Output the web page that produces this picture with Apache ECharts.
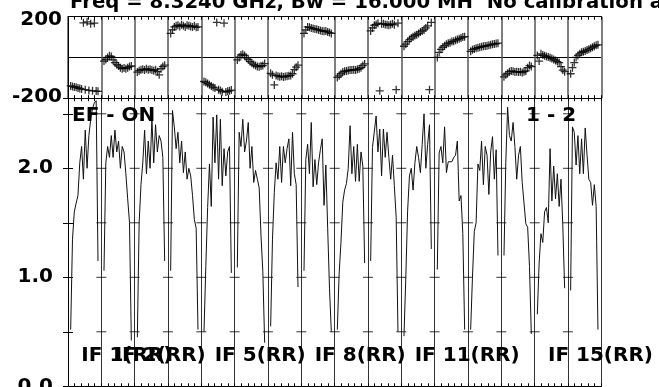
<!DOCTYPE html>
<html><head><meta charset="utf-8">
<script src="https://cdn.jsdelivr.net/npm/echarts@6/dist/echarts.min.js"></script>
<style>html,body{margin:0;padding:0;background:#fff;overflow:hidden}#c{width:659px;height:387px}</style>
</head><body><div id="c"></div>
<script>
// Amplitude per IF (16 channels each)
const amp01 = [0.52, 1.35, 1.6, 1.68, 1.75, 2.05, 2.2, 1.9, 2.35, 2.0, 2.3, 2.45, 2.55, 2.6, 2.62, 1.15];
const amp02 = [1.06, 2.05, 2.2, 2.1, 2.3, 2.1, 2.35, 2.15, 2.25, 2.0, 2.2, 2.15, 1.95, 1.72, 1.5, 0.42];
const amp03 = [0.45, 1.5, 1.85, 2.05, 2.35, 1.95, 2.25, 2.0, 2.45, 2.05, 2.4, 2.15, 2.3, 2.25, 2.1, 1.15];
const amp04 = [1.06, 2.53, 2.38, 2.18, 2.33, 2.05, 2.25, 1.96, 2.15, 1.9, 2.0, 1.93, 1.75, 1.53, 1.45, 0.52];
const amp05 = [0.5, 1.1, 1.64, 2.04, 1.65, 2.47, 2.05, 2.49, 1.9, 2.45, 1.84, 2.18, 1.93, 2.15, 2.2, 1.04];
const amp06 = [1.09, 2.33, 2.2, 2.45, 2.15, 2.25, 2.42, 2.0, 2.2, 1.87, 1.98, 1.9, 1.82, 1.38, 1.05, 0.4];
const amp07 = [0.55, 1.35, 1.78, 2.05, 1.9, 2.2, 1.87, 2.2, 2.05, 2.18, 2.27, 1.84, 2.33, 1.95, 1.85, 0.91];
const amp08 = [1.06, 2.08, 2.22, 1.95, 2.42, 1.83, 2.08, 1.85, 2.05, 2.17, 2.27, 1.66, 2.03, 1.45, 0.9, 0.5];
const amp09 = [0.52, 1.03, 1.32, 1.69, 1.8, 1.86, 2.0, 2.39, 1.95, 2.2, 1.88, 2.22, 1.88, 2.15, 2.02, 1.13];
const amp10 = [1.15, 2.19, 2.2, 2.48, 2.15, 2.36, 1.93, 2.36, 2.1, 2.33, 2.1, 1.9, 2.12, 1.84, 1.55, 0.5];
const amp11 = [0.46, 1.0, 1.61, 1.93, 2.0, 1.8, 2.05, 2.2, 2.1, 1.96, 2.22, 2.5, 2.0, 2.22, 2.4, 1.26];
const amp12 = [1.07, 2.14, 2.2, 2.05, 2.38, 1.96, 2.06, 2.05, 2.06, 2.1, 2.12, 2.25, 1.7, 1.75, 1.4, 0.52];
const amp13 = [0.52, 1.0, 1.42, 1.5, 2.04, 1.98, 2.25, 1.85, 2.2, 2.12, 1.76, 2.15, 2.29, 1.9, 2.17, 1.2];
const amp14 = [1.2, 2.05, 2.56, 2.3, 2.25, 2.42, 2.2, 1.9, 2.12, 2.2, 1.87, 1.88, 1.49, 1.46, 1.1, 0.48];
const amp15 = [0.66, 1.13, 1.4, 1.32, 1.6, 1.64, 1.5, 2.18, 1.7, 2.02, 1.72, 1.95, 1.65, 1.9, 1.47, 0.9];
const amp16 = [0.88, 2.38, 2.33, 2.03, 2.3, 1.95, 2.27, 1.95, 2.37, 2.12, 1.9, 1.87, 1.66, 1.85, 1.65, 0.52];

// Phase per IF (degrees)
const phase01 = [-140, -142, -145, -146, -150, -152, -155, 170, -158, 175, -162, 165, -164, 168, -165, -166];
const phase02 = [-18, -10, 0, 8, 5, -12, -25, -35, -42, -50, -55, -52, -55, -50, -45, -42];
const phase03 = [-72, -65, -60, -58, -62, -55, -60, -58, -62, -65, -60, -70, -85, -55, -45, -38];
const phase04 = [118, 135, 150, 155, 158, 152, 160, 155, 150, 158, 155, 152, 150, 155, 148, 150];
const phase05 = [-118, -122, -128, -134, -140, -146, -150, 172, -158, -162, -168, 168, -170, -166, -164, -160];
const phase06 = [-12, 0, 12, 16, 10, -2, -10, -20, -28, -35, -40, -44, -46, -42, -40, -30];
const phase07 = [-78, -85, -135, -88, -92, -95, -92, -96, -94, -92, -90, -88, -80, -60, -48, -38];
const phase08 = [118, 135, 150, 148, 145, 142, 140, 138, 135, 132, 130, 128, 130, 125, 122, 118];
const phase09 = [-98, -90, -80, -72, -68, -66, -64, -62, -62, -60, -62, -58, -55, -50, -40, -32];
const phase10 = [130, 145, 158, 162, 168, -164, 165, 166, 162, 160, 158, 162, 165, 160, -158, 168];
const phase11 = [55, 65, 78, 88, 95, 102, 108, 112, 118, 125, 130, 135, 145, 155, -158, 172];
const phase12 = [0, 25, 40, 50, 58, 65, 70, 72, 78, 80, 85, 88, 92, 95, 100, 102];
const phase13 = [30, 38, 42, 45, 48, 50, 52, 55, 56, 58, 60, 62, 65, 66, 68, 70];
const phase14 = [-95, -85, -78, -70, -66, -68, -72, -70, -72, -70, -74, -70, -66, -50, -40, -45];
const phase15 = [10, -18, 18, 12, 8, 5, 2, -2, -5, -10, -15, -20, -25, -45, -62, -70];
const phase16 = [-80, -50, -25, 0, 10, 18, 25, 28, 32, 36, 40, 45, 50, 55, 60, 62];

const ifLabelNumbers = [1, 2, 5, 8, 11, 15];
const ifLabelTexts = ["IF 1(RR)", "IF 2(RR)", "IF 5(RR)", "IF 8(RR)", "IF 11(RR)", "IF 15(RR)"];
const ampTickValues = [0.5, 1.0, 1.5, 2.0, 2.5];
const titleText = "Freq = 8.3240 GHz, Bw = 16.000 MH  No calibration a";
const sourceText = "EF - ON";
const baselineText = "1 - 2";

const ampByIF = [amp01, amp02, amp03, amp04, amp05, amp06, amp07, amp08, amp09, amp10, amp11, amp12, amp13, amp14, amp15, amp16];
const phaseByIF = [phase01, phase02, phase03, phase04, phase05, phase06, phase07, phase08, phase09, phase10, phase11, phase12, phase13, phase14, phase15, phase16];
const NIF = ampByIF.length;
const NCH = amp01.length;
function chanX(k, c) { return k + 0.08 + c * 0.82 / (NCH - 1); }

const ampData = [];
const phaseData = [];
ampByIF.forEach((arr, k) => {
  arr.forEach((v, c) => ampData.push([chanX(k, c), v]));
  ampData.push([k + 0.97, '-']);
});
phaseByIF.forEach((arr, k) => {
  arr.forEach((v, c) => phaseData.push([chanX(k, c), v]));
});
const innerTicks = [];
for (let k = 1; k < NIF; k++) ampTickValues.forEach(v => innerTicks.push([k, v]));

const FONT = 'DejaVu Sans';
const chart = echarts.init(document.getElementById('c'), null, { renderer: 'canvas' });
const plus = 'path://M4.2,0h1.6v10h-1.6zM0,4.2h10v1.6h-10z';
const xBase = (grid, pos, split, splitColor, splitWidth) => ({
  type: 'value', gridIndex: grid, position: pos, min: 0, max: NIF, interval: 1,
  axisLabel: { show: false },
  axisLine: { show: true, onZero: false, lineStyle: { color: '#000', width: 1 } },
  axisTick: { show: true, inside: true, length: 3, lineStyle: { color: '#000' } },
  minorTick: { show: true, splitNumber: 5, length: 3, lineStyle: { color: '#000' } },
  splitLine: { show: split, lineStyle: { color: splitColor || '#333', width: splitWidth || 1 } }
});
const txt = (size) => ({ color: '#000', fontFamily: FONT, fontWeight: 'bold', fontSize: size });
const baseTitles = [
  { text: titleText, left: 70, top: -7, padding: 0, textStyle: txt(19.7) },
  { text: sourceText, left: 72, top: 106, padding: 0, textStyle: txt(20) },
  { text: baselineText, left: 526, top: 106, padding: 0, textStyle: txt(20) }
];
chart.setOption({
  animation: false,
  backgroundColor: '#fff',
  title: baseTitles,
  grid: [
    { left: 68, right: 57.7, top: 16.7, height: 81.5, containLabel: false, outerBoundsMode: 'none' },
    { left: 68, right: 57.7, top: 98.2, height: 288.1, containLabel: false, outerBoundsMode: 'none' }
  ],
  xAxis: [xBase(0, 'bottom', true, '#555', 1.5), xBase(0, 'top', false), xBase(1, 'bottom', true), xBase(1, 'top', false)],
  yAxis: [
    { type: 'value', gridIndex: 0, min: -200, max: 200, interval: 200,
      axisLine: { show: true, lineStyle: { color: '#000' } }, axisTick: { show: false },
      axisLabel: Object.assign({ margin: 6,
        formatter: v => (v === 0 ? '' : (v > 0 ? '{hi|' + v + '}' : '{lo|' + v + '}')),
        rich: {
          hi: Object.assign({ padding: [6, 0, 0, 0] }, txt(20)),
          lo: Object.assign({ padding: [0, 0, 3, 0] }, txt(20))
        } }, txt(20)),
      splitLine: { show: true, lineStyle: { color: '#000', width: 1 } } },
    { type: 'value', gridIndex: 0, position: 'right', min: -200, max: 200,
      axisLine: { show: true, lineStyle: { color: '#000' } }, axisTick: { show: false },
      axisLabel: { show: false }, splitLine: { show: false } },
    { type: 'value', gridIndex: 1, min: 0, max: 2.643, interval: 0.5,
      axisLine: { show: true, lineStyle: { color: '#000' } },
      axisTick: { show: true, inside: true, length: 5, lineStyle: { color: '#000' } },
      axisLabel: Object.assign({ margin: 15, showMaxLabel: false, padding: [3, 0, 0, 0],
        formatter: v => (Math.abs(v - Math.round(v)) < 1e-6 ? v.toFixed(1) : '') }, txt(20)),
      splitLine: { show: false } },
    { type: 'value', gridIndex: 1, position: 'right', min: 0, max: 2.643, interval: 0.5,
      axisLine: { show: true, lineStyle: { color: '#000' } },
      axisTick: { show: true, inside: true, length: 5, lineStyle: { color: '#000' } },
      axisLabel: { show: false }, splitLine: { show: false } }
  ],
  series: [
    { type: 'scatter', xAxisIndex: 0, yAxisIndex: 0, data: phaseData, symbol: plus, symbolSize: 8,
      itemStyle: { color: '#000' }, silent: true },
    { type: 'line', xAxisIndex: 2, yAxisIndex: 2, data: ampData, showSymbol: false, symbol: 'none',
      connectNulls: false, lineStyle: { color: '#111', width: 1 }, silent: true },
    { type: 'scatter', xAxisIndex: 2, yAxisIndex: 2, data: innerTicks, symbol: 'rect', symbolSize: [10, 1],
      itemStyle: { color: '#000' }, silent: true }
  ]
});
// IF labels placed through the amplitude axes' scales
const labelAmp = 0.273;
const ifTitles = ifLabelNumbers.map((n, i) => {
  const p = chart.convertToPixel({ xAxisIndex: 2, yAxisIndex: 2 }, [n - 0.6, labelAmp]);
  return { text: ifLabelTexts[i], left: p[0], top: p[1] - 11, padding: 0, textStyle: txt(20) };
});
chart.setOption({ title: baseTitles.concat(ifTitles) });
</script></body></html>
